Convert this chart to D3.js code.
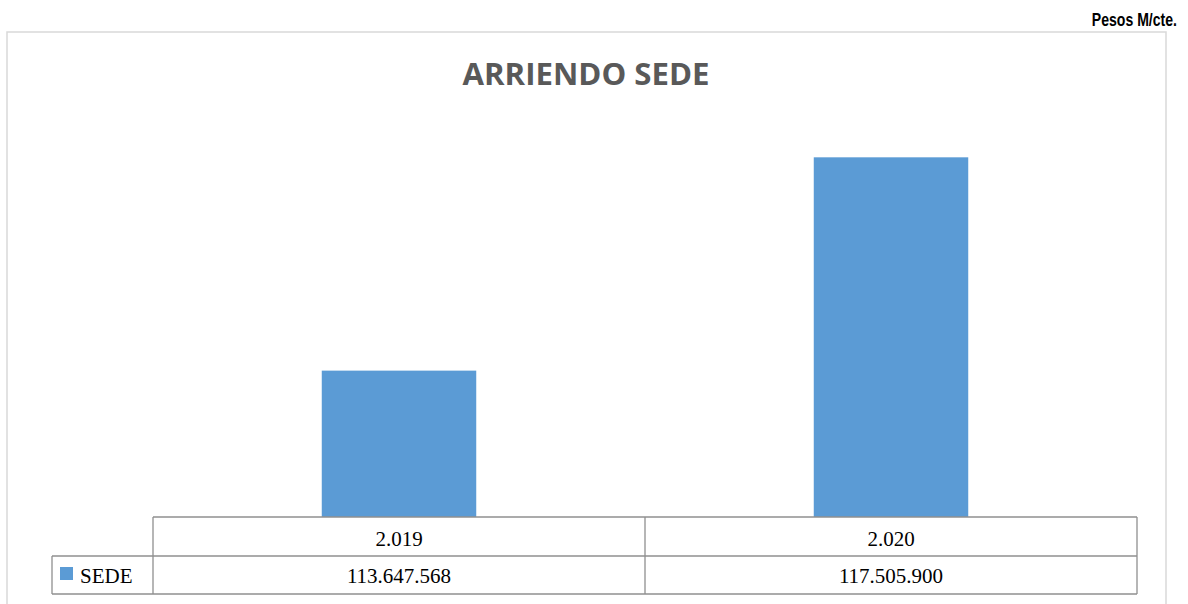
<!DOCTYPE html>
<html>
<head>
<meta charset="utf-8">
<script src="https://cdn.jsdelivr.net/npm/d3@7"></script>
<style>
    body { margin: 0; background: #ffffff; }
    svg { display: block; }
</style>
</head>
<body>
<svg id="arriendo-sede-chart"></svg>
<script>
const CHART_WIDTH = 1188;
const CHART_HEIGHT = 604;

// data
const years = [2019, 2020];
const seriesName = "SEDE";
const sedeValues = [113647568, 117505900];
const axisBounds = [111000000, 118000000];

const TABLE = {
    start: 153,
    end: 1137,
    legendStart: 52,
    top: 517,
    middle: 556,
    bottom: 594
};

const BAR_COLOR = "#5b9bd5";
const GRID_COLOR = "#8f8f8f";

const esLocale = d3.formatLocale({
    decimal: ",",
    thousands: ".",
    grouping: [3],
    currency: ["$", ""]
});
const formatNumber = esLocale.format(",d");

function createChart() {
    let svg = d3.select("#arriendo-sede-chart")
        .attr("width", CHART_WIDTH)
        .attr("height", CHART_HEIGHT);

    // chart area frame (runs past the bottom edge)
    svg.append("rect")
        .attr("x", 7)
        .attr("y", 32)
        .attr("width", 1159)
        .attr("height", 620)
        .attr("fill", "none")
        .attr("stroke", "#d9d9d9")
        .attr("stroke-width", 1.5);

    // narrow bold unit label, squeezed horizontally
    svg.append("text")
        .attr("transform", "translate(1177, 26) scale(0.74, 1)")
        .attr("text-anchor", "end")
        .attr("font-family", "Liberation Sans, Arial, sans-serif")
        .attr("font-weight", "bold")
        .attr("font-size", "19px")
        .text("Pesos M/cte.");

    svg.append("text")
        .attr("x", 586)
        .attr("y", 85)
        .attr("text-anchor", "middle")
        .attr("font-family", "Open Sans, sans-serif")
        .attr("font-weight", "bold")
        .attr("font-size", "31px")
        .attr("fill", "#595959")
        .attr("textLength", 247)
        .attr("lengthAdjust", "spacingAndGlyphs")
        .text("ARRIENDO SEDE");

    return svg;
}

function renderChart(svg) {
    const data = years.map((year, i) => ({ year: year, value: sedeValues[i] }));

    let xScale = d3.scaleBand()
        .domain(years)
        .range([TABLE.start, TABLE.end])
        .padding(0);

    let yScale = d3.scaleLinear()
        .domain(axisBounds)
        .range([TABLE.top, 130]);

    const barWidth = xScale.bandwidth() * 0.314;

    svg.selectAll(".bar")
        .data(data)
        .enter()
        .append("rect")
            .classed("bar", true)
            .attr("x", d => xScale(d.year) + (xScale.bandwidth() - barWidth) / 2)
            .attr("width", barWidth)
            .attr("y", d => yScale(d.value))
            .attr("height", d => yScale(axisBounds[0]) - yScale(d.value))
            .attr("fill", BAR_COLOR);

    // data table
    let table = svg.append("g").classed("data-table", true)
        .attr("stroke", GRID_COLOR)
        .attr("stroke-width", 1.3);

    const hLines = [
        [TABLE.start, TABLE.end, TABLE.top],
        [TABLE.legendStart, TABLE.end, TABLE.middle],
        [TABLE.legendStart, TABLE.end, TABLE.bottom]
    ];
    table.selectAll(".h-line")
        .data(hLines)
        .enter()
        .append("line")
            .attr("x1", d => d[0])
            .attr("x2", d => d[1])
            .attr("y1", d => d[2])
            .attr("y2", d => d[2]);

    const vLines = [[TABLE.legendStart, TABLE.middle]]
        .concat(years.map(y => [xScale(y), TABLE.top]))
        .concat([[TABLE.end, TABLE.top]]);
    table.selectAll(".v-line")
        .data(vLines)
        .enter()
        .append("line")
            .attr("x1", d => d[0])
            .attr("x2", d => d[0])
            .attr("y1", d => d[1])
            .attr("y2", TABLE.bottom);

    let labels = svg.append("g")
        .attr("font-family", "Liberation Serif, Times New Roman, serif")
        .attr("font-size", "21px")
        .attr("fill", "#000000")
        .attr("text-anchor", "middle");

    labels.selectAll(".year-label")
        .data(data)
        .enter()
        .append("text")
            .attr("x", d => xScale(d.year) + xScale.bandwidth() / 2)
            .attr("y", 546)
            .text(d => formatNumber(d.year));

    labels.selectAll(".value-label")
        .data(data)
        .enter()
        .append("text")
            .attr("x", d => xScale(d.year) + xScale.bandwidth() / 2)
            .attr("y", 583)
            .text(d => formatNumber(d.value));

    svg.append("rect")
        .attr("x", 60)
        .attr("y", 567)
        .attr("width", 13)
        .attr("height", 13)
        .attr("fill", BAR_COLOR);

    svg.append("text")
        .attr("x", 80)
        .attr("y", 583)
        .attr("font-family", "Liberation Serif, Times New Roman, serif")
        .attr("font-size", "21px")
        .text(seriesName);
}

renderChart(createChart());
</script>
</body>
</html>
